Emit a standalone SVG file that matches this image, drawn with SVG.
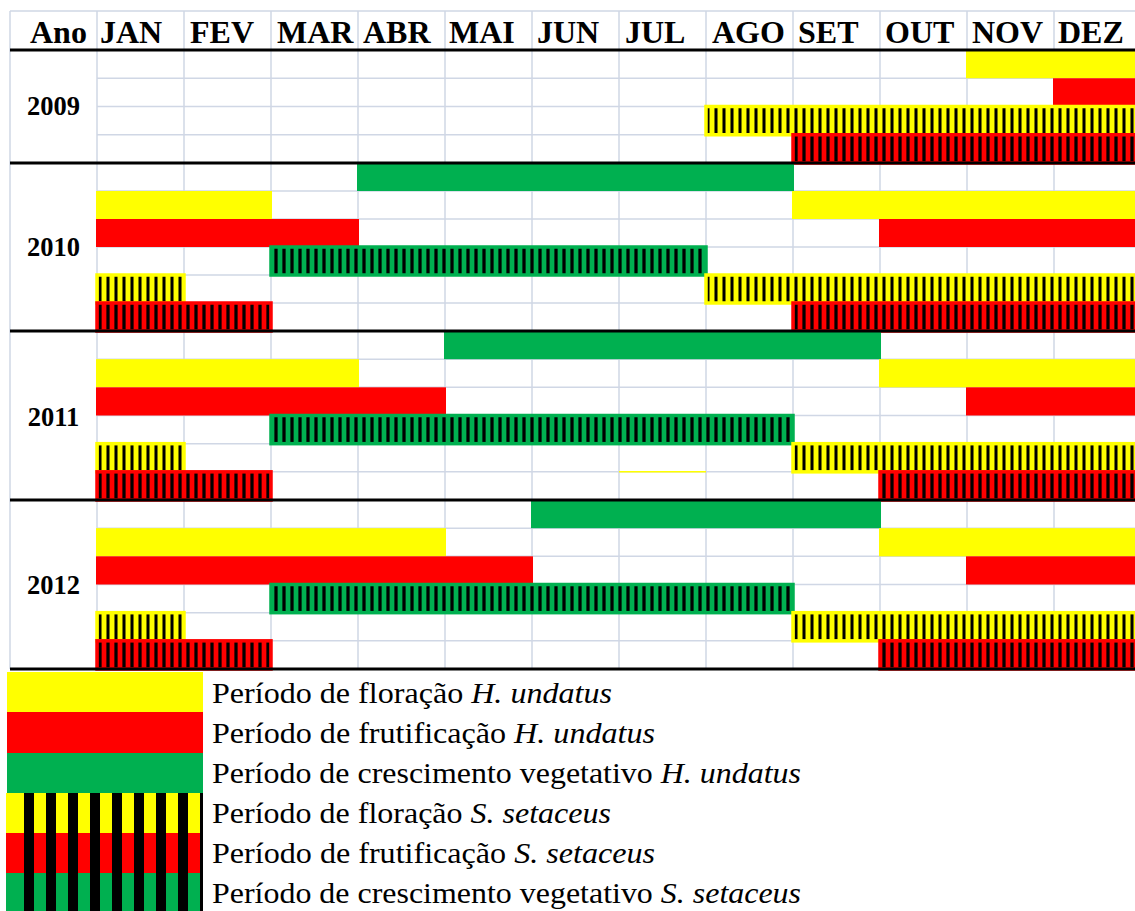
<svg xmlns="http://www.w3.org/2000/svg" width="1135" height="911" viewBox="0 0 1135 911">
<style>
.grid{stroke:#D0D7E5;stroke-width:1.5;fill:none}
.sep{stroke:#000;stroke-width:3}
.hdr{font-family:"Liberation Serif","Times New Roman",serif;font-weight:bold;font-size:32px;fill:#000}
.yr{font-family:"Liberation Serif","Times New Roman",serif;font-weight:bold;font-size:26.5px;fill:#000;text-anchor:middle}
.leg{font-family:"Liberation Serif","Times New Roman",serif;font-size:30px;fill:#000}
.Y{fill:#FFFF00}.R{fill:#FF0000}.G{fill:#00B050}
.hY{fill:url(#pY);stroke:#FFFF00;stroke-width:3.5}
.hR{fill:url(#pR);stroke:#FF0000;stroke-width:3.5}
.hG{fill:url(#pG);stroke:#00B050;stroke-width:3.5}
</style>
<defs>
<linearGradient id="gY" x1="0" x2="1" y1="0" y2="0">
<stop offset="0" stop-color="#FFFF00"/><stop offset="0.22" stop-color="#FFFF00"/><stop offset="0.4" stop-color="#000"/><stop offset="0.6" stop-color="#000"/><stop offset="0.78" stop-color="#FFFF00"/><stop offset="1" stop-color="#FFFF00"/>
</linearGradient>
<linearGradient id="gR" x1="0" x2="1" y1="0" y2="0">
<stop offset="0" stop-color="#FF0000"/><stop offset="0.2" stop-color="#FF0000"/><stop offset="0.38" stop-color="#000"/><stop offset="0.62" stop-color="#000"/><stop offset="0.8" stop-color="#FF0000"/><stop offset="1" stop-color="#FF0000"/>
</linearGradient>
<linearGradient id="gG" x1="0" x2="1" y1="0" y2="0">
<stop offset="0" stop-color="#00B050"/><stop offset="0.2" stop-color="#00B050"/><stop offset="0.38" stop-color="#000"/><stop offset="0.62" stop-color="#000"/><stop offset="0.8" stop-color="#00B050"/><stop offset="1" stop-color="#00B050"/>
</linearGradient>
<pattern id="pY" width="8" height="10" patternUnits="userSpaceOnUse"><rect width="8" height="10" fill="url(#gY)"/></pattern>
<pattern id="pR" width="8" height="10" patternUnits="userSpaceOnUse"><rect width="8" height="10" fill="url(#gR)"/></pattern>
<pattern id="pG" width="8" height="10" patternUnits="userSpaceOnUse"><rect width="8" height="10" fill="url(#gG)"/></pattern>
<pattern id="pL" x="24" y="0" width="22" height="40" patternUnits="userSpaceOnUse"><rect width="10" height="40" fill="#000"/></pattern>
</defs>
<rect width="1135" height="911" fill="#fff"/>

<g id="grid">
<path class="grid" d="M10 11H1135M10 11V669M97 11V669M184 11V669M271 11V669M358 11V669M445 11V669M532 11V669M619 11V669M706 11V669M793 11V669M880 11V669M967 11V669M1054 11V669
M97 78.25H1135M97 106.5H1135M97 134.75H1135
M97 191H1135M97 219H1135M97 247H1135M97 275H1135M97 303H1135
M97 359.17H1135M97 387.33H1135M97 415.5H1135M97 443.67H1135M97 471.83H1135
M97 528.17H1135M97 556.33H1135M97 584.5H1135M97 612.67H1135M97 640.83H1135"/>
<line x1="619" y1="471.83" x2="706" y2="471.83" stroke="#FFFF00" stroke-width="1.5"/>
</g>

<g id="header">
<text class="hdr" x="30" y="43">Ano</text>
<text class="hdr" x="100" y="43">JAN</text>
<text class="hdr" x="190" y="43">FEV</text>
<text class="hdr" x="277" y="43">MAR</text>
<text class="hdr" x="363" y="43">ABR</text>
<text class="hdr" x="449" y="43">MAI</text>
<text class="hdr" x="537" y="43">JUN</text>
<text class="hdr" x="625" y="43">JUL</text>
<text class="hdr" x="712" y="43">AGO</text>
<text class="hdr" x="798" y="43">SET</text>
<text class="hdr" x="885" y="43">OUT</text>
<text class="hdr" x="972" y="43">NOV</text>
<text class="hdr" x="1058" y="43">DEZ</text>
</g>

<g id="y2009">
<text class="yr" x="53.5" y="115">2009</text>
<rect class="Y" x="966" y="50" width="176" height="28.25"/>
<rect class="R" x="1053" y="78.25" width="89" height="28.25"/>
<rect class="hY" x="706" y="106.5" width="435" height="28.25"/>
<rect class="hR" x="793" y="134.75" width="348" height="28.25"/>
</g>

<g id="y2010">
<text class="yr" x="53.5" y="256">2010</text>
<rect class="G" x="357" y="163" width="437" height="28"/>
<rect class="Y" x="96" y="191" width="176" height="28"/>
<rect class="Y" x="792" y="191" width="350" height="28"/>
<rect class="R" x="96" y="219" width="263" height="28"/>
<rect class="R" x="879" y="219" width="263" height="28"/>
<rect class="hG" x="271" y="247" width="435" height="28"/>
<rect class="hY" x="97" y="275" width="87" height="28"/>
<rect class="hY" x="706" y="275" width="435" height="28"/>
<rect class="hR" x="97" y="303" width="174" height="28"/>
<rect class="hR" x="793" y="303" width="348" height="28"/>
</g>

<g id="y2011">
<text class="yr" x="53.5" y="426">2011</text>
<rect class="G" x="444" y="331" width="437" height="28.17"/>
<rect class="Y" x="96" y="359.17" width="263" height="28.17"/>
<rect class="Y" x="879" y="359.17" width="263" height="28.17"/>
<rect class="R" x="96" y="387.33" width="350" height="28.17"/>
<rect class="R" x="966" y="387.33" width="176" height="28.17"/>
<rect class="hG" x="271" y="415.5" width="522" height="28.17"/>
<rect class="hY" x="97" y="443.67" width="87" height="28.17"/>
<rect class="hY" x="793" y="443.67" width="348" height="28.17"/>
<rect class="hR" x="97" y="471.83" width="174" height="28.17"/>
<rect class="hR" x="880" y="471.83" width="261" height="28.17"/>
</g>

<g id="y2012">
<text class="yr" x="53.5" y="594">2012</text>
<rect class="G" x="531" y="500" width="350" height="28.17"/>
<rect class="Y" x="96" y="528.17" width="350" height="28.17"/>
<rect class="Y" x="879" y="528.17" width="263" height="28.17"/>
<rect class="R" x="96" y="556.33" width="437" height="28.17"/>
<rect class="R" x="966" y="556.33" width="176" height="28.17"/>
<rect class="hG" x="271" y="584.5" width="522" height="28.17"/>
<rect class="hY" x="97" y="612.67" width="87" height="28.17"/>
<rect class="hY" x="793" y="612.67" width="348" height="28.17"/>
<rect class="hR" x="97" y="640.83" width="174" height="28.17"/>
<rect class="hR" x="880" y="640.83" width="261" height="28.17"/>
</g>

<g id="separators">
<line class="sep" x1="10" y1="50" x2="1135" y2="50"/>
<line class="sep" x1="10" y1="163" x2="1135" y2="163"/>
<line class="sep" x1="10" y1="331" x2="1135" y2="331"/>
<line class="sep" x1="10" y1="500" x2="1135" y2="500"/>
<line class="sep" x1="10" y1="669" x2="1135" y2="669"/>
</g>

<g id="legend">
<g id="leg1"><rect class="Y" x="7" y="672" width="196" height="40"/><text class="leg" x="212" y="703" textLength="400" lengthAdjust="spacingAndGlyphs">Período de floração <tspan font-style="italic">H. undatus</tspan></text></g>
<g id="leg2"><rect class="R" x="7" y="712" width="196" height="41"/><text class="leg" x="212" y="743" textLength="443" lengthAdjust="spacingAndGlyphs">Período de frutificação <tspan font-style="italic">H. undatus</tspan></text></g>
<g id="leg3"><rect class="G" x="7" y="753" width="196" height="40"/><text class="leg" x="212" y="783" textLength="589" lengthAdjust="spacingAndGlyphs">Período de crescimento vegetativo <tspan font-style="italic">H. undatus</tspan></text></g>
<g id="leg4"><rect class="Y" x="6" y="793" width="197" height="40"/><rect x="24" y="793" width="179" height="40" fill="url(#pL)"/><text class="leg" x="212" y="823" textLength="399" lengthAdjust="spacingAndGlyphs">Período de floração <tspan font-style="italic">S. setaceus</tspan></text></g>
<g id="leg5"><rect class="R" x="6" y="833" width="197" height="40"/><rect x="24" y="833" width="179" height="40" fill="url(#pL)"/><text class="leg" x="212" y="863" textLength="443" lengthAdjust="spacingAndGlyphs">Período de frutificação <tspan font-style="italic">S. setaceus</tspan></text></g>
<g id="leg6"><rect class="G" x="6" y="873" width="197" height="40"/><rect x="24" y="873" width="179" height="40" fill="url(#pL)"/><text class="leg" x="212" y="903" textLength="589" lengthAdjust="spacingAndGlyphs">Período de crescimento vegetativo <tspan font-style="italic">S. setaceus</tspan></text></g>
</g>
</svg>
